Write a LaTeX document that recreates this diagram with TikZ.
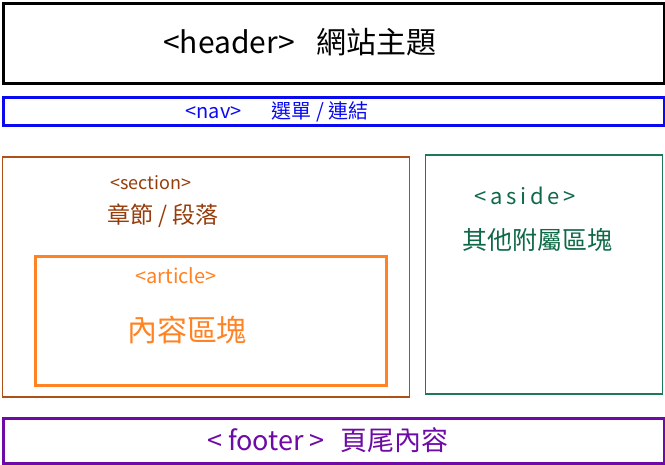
\documentclass[tikz,border=0pt]{standalone}
\usepackage{fontspec}
\newfontfamily\cjk{Noto Sans CJK TC}
\usetikzlibrary{positioning}
\definecolor{hc}{RGB}{0,0,0}
\definecolor{nc}{RGB}{10,10,240}
\definecolor{sc}{RGB}{175,80,25}
\definecolor{st}{RGB}{150,60,10}
\definecolor{ac}{RGB}{255,130,35}
\definecolor{gc}{RGB}{30,120,90}
\definecolor{gt}{RGB}{15,105,70}
\definecolor{fc}{RGB}{110,10,165}
\newcommand{\fs}[1]{\cjk\fontsize{#1}{#1}\selectfont}
\tikzset{blk/.style={draw,line width=3pt,inner sep=0pt,anchor=north west},
 thin/.style={blk,line width=1.5pt},
 lbl/.style={inner sep=0pt},
 every node/.style={font=\cjk}}
\begin{document}
\begin{tikzpicture}[x=1pt,y=-1pt]
\useasboundingbox (0,0) rectangle (665,464);
% boxes
\node[blk,draw=hc,minimum width=661,minimum height=80] (header) at (2,2) {};
\node[blk,draw=nc,minimum width=661,minimum height=28] (nav) at (2,96) {};
\node[thin,draw=sc,minimum width=407,minimum height=240] (section) at (1.5,156) {};
\node[blk,draw=ac,minimum width=351,minimum height=129] (article) at (34,255) {};
\node[thin,draw=gc,minimum width=237,minimum height=239] (aside) at (424.5,154) {};
\node[blk,draw=fc,minimum width=661,minimum height=45] (footer) at (2,417) {};
% labels
\node[lbl,font=\fs{30}] (ht) at (300,42) {<header>\hspace{22pt}網站主題};
\node[lbl,font=\fs{20},text=nc] (nt) at (277,112) {<nav>\hspace{30pt}選單 / 連結};
\node[lbl,font=\fs{18},text=st] (st1) at (151,183) {<section>};
\node[lbl,font=\fs{23},text=st] (st2) at (163,216) {章節 / 段落};
\node[lbl,font=\fs{20},text=ac] (at1) at (176,276) {<article>};
\node[lbl,font=\fs{30},text=ac] (at2) at (187,330) {內容區塊};
\node[lbl,font=\fs{22},text=gt] (gt1) at (525,196) {<\,a\,s\,i\,d\,e\,>};
\node[lbl,font=\fs{25},text=gt] (gt2) at (537,240) {其他附屬區塊};
\node[lbl,font=\fs{27},text=fc] (ft) at (328,440) {<\hspace{6pt}footer\hspace{6pt}>\hspace{16pt}頁尾內容};
\end{tikzpicture}
\end{document}
